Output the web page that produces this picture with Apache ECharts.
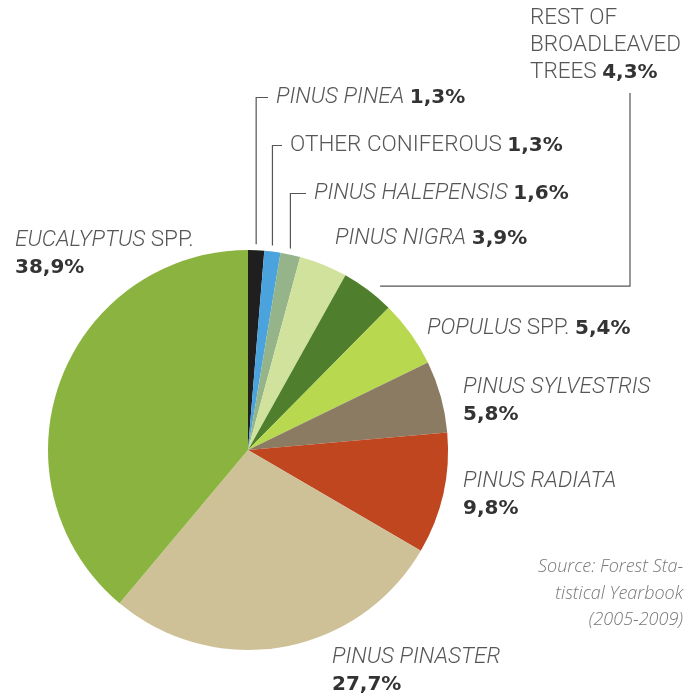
<!DOCTYPE html>
<html>
<head>
<meta charset="utf-8">
<script src="https://cdn.jsdelivr.net/npm/echarts@6/dist/echarts.min.js"></script>
<style>
  html, body { margin: 0; padding: 0; background: #fff; }
  #grafico { width: 698px; height: 697px; }
</style>
</head>
<body>
<div id="grafico"></div>
<script>
// species, clockwise from 12 o'clock
const especies = ['Pinus pinea', 'Other coniferous', 'Pinus halepensis', 'Pinus nigra',
  'Rest of broadleaved trees', 'Populus spp.', 'Pinus sylvestris', 'Pinus radiata',
  'Pinus pinaster', 'Eucalyptus spp.'];
const percentuais = [1.3, 1.3, 1.6, 3.9, 4.3, 5.4, 5.8, 9.8, 27.7, 38.9];
const cores = ['#1f1f1f', '#4ba3de', '#95b48a', '#d0e29c', '#4f7f2d', '#b7d84f',
  '#8a7b62', '#c0461f', '#cfc197', '#8ab43f'];
// label texts (rich markup), and what goes between name and value
const rotulos = ['{i|PINUS PINEA}', '{n|OTHER CONIFEROUS}', '{i|PINUS HALEPENSIS}', '{i|PINUS NIGRA}',
  '{n|REST OF}\n{n|BROADLEAVED}\n{n|TREES}', '{i|POPULUS }{n|SPP.}', '{i|PINUS SYLVESTRIS}',
  '{i|PINUS RADIATA}', '{i|PINUS PINASTER}', '{i|EUCALYPTUS }{n|SPP.}'];
const separadores = ['{n| }', '{n| }', '{n| }', '{n| }', '{n| }', '{n| }', '\n', '\n', '\n', '\n'];
const fonte = 'Source: Forest Sta-\ntistical Yearbook\n(2005-2009)';

// label placement (left, top) and leader kind
const posRotulos = [[276, 84], [290, 132], [314, 180], [335, 225], [530, 5],
  [427, 315], [463, 374], [463, 468], [332, 644], [15, 227]];
const guias = ['up', 'up', 'up', null, 'right', null, null, null, null, null];

const chartDom = document.getElementById('grafico');
const myChart = echarts.init(chartDom);

const estiloTexto = { fontFamily: 'Roboto', fontSize: 22.5, lineHeight: 27, color: '#565656', fontWeight: 300 };

const dados = especies.map((nome, i) => ({
  name: nome,
  value: percentuais[i],
  itemStyle: { color: cores[i] },
  labelLine: { show: guias[i] != null },
}));

const option = {
  backgroundColor: '#ffffff',
  animation: false,
  series: [
    {
      type: 'pie',
      center: [248, 450],
      radius: 200,
      startAngle: 90,
      clockwise: true,
      avoidLabelOverlap: false,
      data: dados,
      itemStyle: { borderWidth: 0 },
      label: {
        show: true,
        position: 'outside',
        formatter: (p) => rotulos[p.dataIndex] + separadores[p.dataIndex] +
          '{b|' + p.value.toFixed(1).replace('.', ',') + '%}',
        rich: {
          i: Object.assign({}, estiloTexto, { fontStyle: 'italic' }),
          n: Object.assign({}, estiloTexto),
          b: Object.assign({}, estiloTexto, {
            fontFamily: 'DejaVu Sans', fontSize: 20, fontWeight: 'bold', color: '#333333',
          }),
        },
      },
      labelLine: {
        lineStyle: { color: '#555555', width: 1.2 },
      },
      labelLayout: (params) => {
        const i = params.dataIndex;
        const [lx, ly] = posRotulos[i];
        const layout = { x: lx, y: ly, align: 'left', verticalAlign: 'top' };
        const p = params.labelLinePoints;
        if (p && guias[i] === 'up') {
          const meioY = ly + 13.5;
          layout.labelLinePoints = [[p[0][0], p[0][1] - 6], [p[0][0], meioY], [lx - 8, meioY]];
        } else if (p && guias[i] === 'right') {
          const xv = lx + 100;
          layout.labelLinePoints = [[p[0][0] + 12, p[0][1] - 4], [xv, p[0][1] - 4], [xv, ly + 88]];
        }
        return layout;
      },
    },
  ],
  graphic: [
    {
      type: 'text',
      x: 683,
      y: 554,
      style: {
        text: fonte,
        fontFamily: 'Open Sans',
        fontStyle: 'italic',
        fontWeight: 300,
        fontSize: 18,
        lineHeight: 26.5,
        fill: '#777777',
        align: 'right',
        verticalAlign: 'top',
      },
    },
  ],
};

myChart.setOption(option);
</script>
</body>
</html>
